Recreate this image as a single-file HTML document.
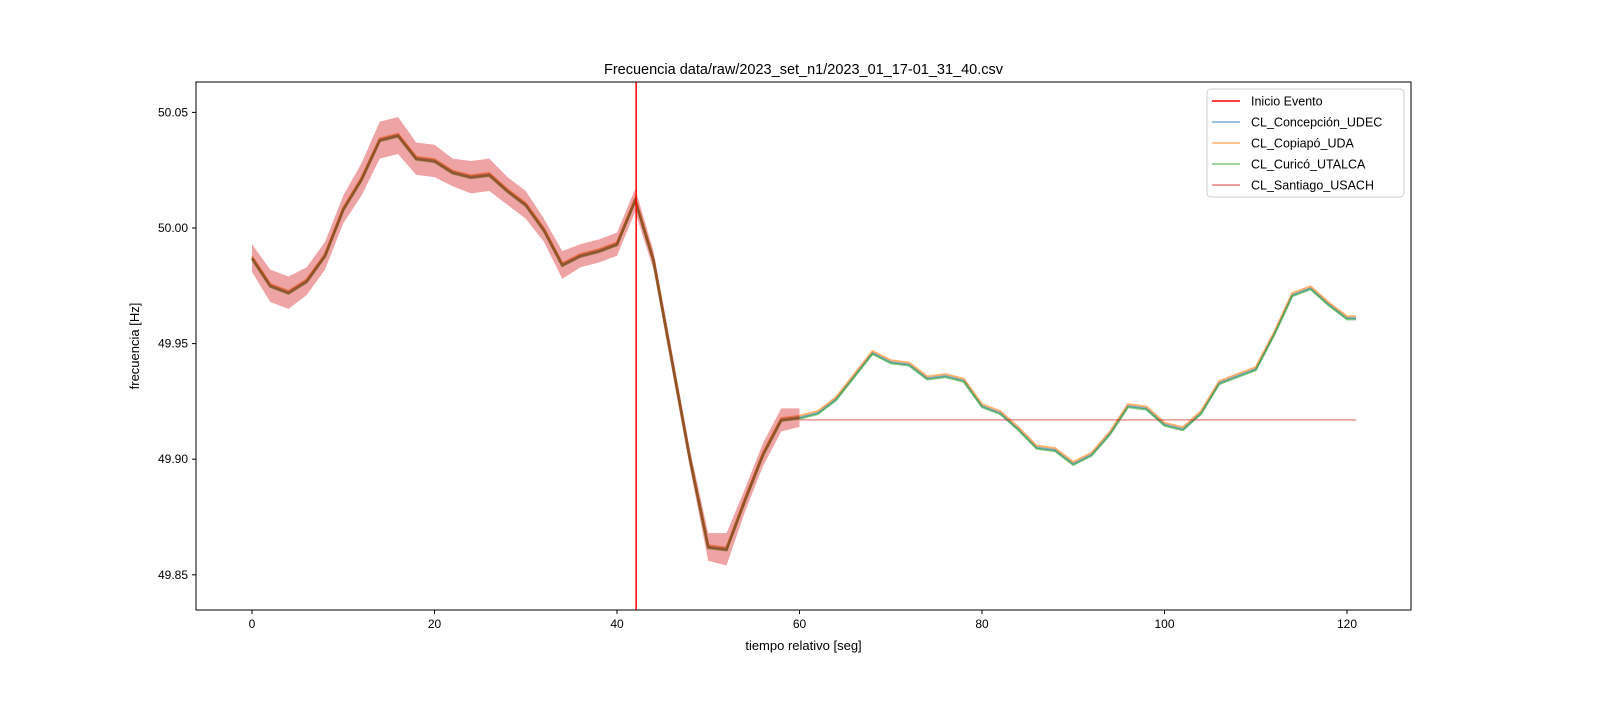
<!DOCTYPE html>
<html><head><meta charset="utf-8"><style>
body{margin:0;background:#fff;}
svg text{font-family:"Liberation Sans","DejaVu Sans",sans-serif;}
</style></head><body>
<svg id="chart" width="1600" height="700">
<rect width="1600" height="700" fill="#fff"/>
<g id="plot"></g>
</svg>
<script>
const times=[0,2,4,6,8,10,12,14,16,18,20,22,24,26,28,30,32,34,36,38,40,42,44,46,48,50,52,54,56,58,60,62,64,66,68,70,72,74,76,78,80,82,84,86,88,90,92,94,96,98,100,102,104,106,108,110,112,114,116,118,120,121];
const freqMean=[49.987,49.975,49.972,49.977,49.988,50.008,50.021,50.038,50.040,50.030,50.029,50.024,50.022,50.023,50.016,50.010,49.999,49.984,49.988,49.990,49.993,50.012,49.986,49.943,49.900,49.862,49.861,49.882,49.902,49.917,49.918,49.920,49.926,49.936,49.946,49.942,49.941,49.935,49.936,49.934,49.923,49.920,49.913,49.905,49.904,49.898,49.902,49.911,49.923,49.922,49.915,49.913,49.920,49.933,49.936,49.939,49.954,49.971,49.974,49.967,49.961,49.961];
const santiagoTimes=[0,2,4,6,8,10,12,14,16,18,20,22,24,26,28,30,32,34,36,38,40,42,44,46,48,50,52,54,56,58,60];
const santiagoSpread=[0.006,0.007,0.007,0.006,0.006,0.006,0.007,0.008,0.008,0.007,0.007,0.006,0.007,0.007,0.006,0.006,0.005,0.006,0.005,0.005,0.005,0.005,0.004,0.004,0.004,0.006,0.007,0.005,0.005,0.005,0.004];
const santiagoFlat=49.917;
const eventTime=42.1;
const xTicks=[0,20,40,60,80,100,120];
const yTicks=[49.85,49.90,49.95,50.00,50.05];
const legendLabels=["Inicio Evento","CL_Concepción_UDEC","CL_Copiapó_UDA","CL_Curicó_UTALCA","CL_Santiago_USACH"];
const legendColors=["#ff0000","#1f77b4","#ff7f0e","#2ca02c","#d62728"];

const L=196,R=1411,T=82,B=610;
const X=t=>252+t*(1347-252)/120;
const Y=v=>228-(v-50)*2312;
const g=document.getElementById('plot');
const NS="http://www.w3.org/2000/svg";
function mk(tag,attrs,parent){const e=document.createElementNS(NS,tag);for(const k in attrs)e.setAttribute(k,attrs[k]);(parent||g).appendChild(e);return e;}

const names=["concepcion-line","copiapo-line","curico-line"];
const cols=["#1f77b4","#ff7f0e","#2ca02c"];
for(let s=0;s<3;s++){
  const off=[0,0.0008,-0.0005][s];
  const pts=times.map((t,i)=>X(t)+","+Y(freqMean[i]+off)).join(" ");
  const p=mk('polyline',{points:pts,fill:"none",stroke:cols[s],"stroke-width":2,"stroke-opacity":0.6});
  
  
}
let up=santiagoTimes.map((t,i)=>X(t)+","+Y(freqMean[i]+santiagoSpread[i]));
let dn=santiagoTimes.map((t,i)=>X(t)+","+Y(freqMean[i]-santiagoSpread[i])).reverse();
const band=mk('polygon',{points:up.concat(dn).join(" "),fill:"#d62728","fill-opacity":0.42});


const sl=mk('polyline',{points:santiagoTimes.map((t,i)=>X(t)+","+Y(freqMean[i])).join(" "),fill:"none",stroke:"#8b4513","stroke-width":3,"stroke-opacity":0.6});


const sf=mk('line',{x1:X(60),x2:X(121),y1:Y(santiagoFlat),y2:Y(santiagoFlat),stroke:"#d62728","stroke-width":1.5,"stroke-opacity":0.5});


const ev=mk('line',{x1:X(eventTime),x2:X(eventTime),y1:T,y2:B,stroke:"#ff0000","stroke-width":1.5});



const frame=mk('rect',{x:L,y:T,width:R-L,height:B-T,fill:"none",stroke:"#000","stroke-width":1});


xTicks.forEach(t=>{
  mk('line',{x1:X(t),x2:X(t),y1:B,y2:B+4,stroke:"#000"});
  const tx=mk('text',{x:X(t),y:B+18,"text-anchor":"middle","font-size":12});tx.textContent=t;
  
  
});
yTicks.forEach(v=>{
  mk('line',{x1:L-4,x2:L,y1:Y(v),y2:Y(v),stroke:"#000"});
  const tx=mk('text',{x:L-8,y:Y(v)+4,"text-anchor":"end","font-size":12});tx.textContent=v.toFixed(2);
  
  
});
const title=mk('text',{x:(L+R)/2,y:74,"text-anchor":"middle","font-size":14.5});title.textContent="Frecuencia data/raw/2023_set_n1/2023_01_17-01_31_40.csv";


const xl=mk('text',{x:(L+R)/2,y:650,"text-anchor":"middle","font-size":13});xl.textContent="tiempo relativo [seg]";


const yl=mk('text',{x:139,y:346,"text-anchor":"middle","font-size":13,transform:"rotate(-90 139 346)"});yl.textContent="frecuencia [Hz]";



const lg=mk('g',{});


mk('rect',{x:1207,y:89,width:197,height:108,rx:4,fill:"#fff","fill-opacity":0.8,stroke:"#ccc"},lg);
legendLabels.forEach((lab,i)=>{
  const y=101+i*21;
  const ln=mk('line',{x1:1212,x2:1240,y1:y,y2:y,stroke:legendColors[i],"stroke-width":1.5,"stroke-opacity":i?0.6:1},lg);
  
  
  const tx=mk('text',{x:1251,y:y+4.5,"font-size":12.5},lg);tx.textContent=lab;
  
  
});
</script>
</body></html>
